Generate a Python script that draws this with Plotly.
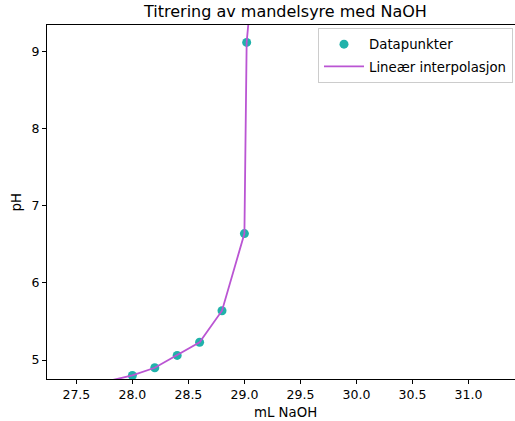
import plotly.graph_objects as go

# Data
ml_naoh = [27.4, 28.0, 28.2, 28.4, 28.6, 28.8, 29.0, 29.02, 29.2]
ph_values = [4.60, 4.80, 4.90, 5.06, 5.23, 5.64, 6.64, 9.12, 12.0]
x_ticks = [27.5, 28.0, 28.5, 29.0, 29.5, 30.0, 30.5, 31.0]
x_tick_labels = ["27.5", "28.0", "28.5", "29.0", "29.5", "30.0", "30.5", "31.0"]
y_ticks = [5, 6, 7, 8, 9]

W, H = 515, 421
L, R, T, B = 46.5, 0, 25, 42
FONT = "DejaVu Sans"

fig = go.Figure()
fig.add_trace(go.Scatter(
    x=ml_naoh, y=ph_values, mode="markers", name="Datapunkter",
    legendgroup="a",
    marker=dict(color="#20B2AA", size=9),
))
fig.add_trace(go.Scatter(
    x=ml_naoh, y=ph_values, mode="lines", name="Lineær interpolasjon",
    legendgroup="b",
    line=dict(color="#BA55D3", width=1.8),
))

pw = W - L - R
ph_ = H - T - B

def px_x(p):
    return (p - L) / pw

def px_y(p):
    return 1 - (p - T) / ph_

fig.update_layout(
    width=W, height=H,
    margin=dict(l=L, r=R, t=T, b=B, pad=0),
    paper_bgcolor="white", plot_bgcolor="white",
    font=dict(family=FONT, size=13, color="black"),
    showlegend=True,
    legend=dict(
        x=px_x(513), y=px_y(28), xanchor="right", yanchor="top",
        bgcolor="rgba(255,255,255,0.8)", bordercolor="#cccccc", borderwidth=1,
        font=dict(family=FONT, size=13.3, color="black"),
        tracegroupgap=2, itemwidth=40,
    ),
    xaxis=dict(
        range=[27.238, 31.415], tickvals=x_ticks, ticktext=x_tick_labels,
        showgrid=False, zeroline=False, showline=True, linecolor="black",
        linewidth=1, mirror=True, ticks="outside", ticklen=4, tickwidth=1,
        tickcolor="black", tickfont=dict(family=FONT, size=12.5, color="black"),
    ),
    yaxis=dict(
        range=[4.754, 9.346], tickvals=y_ticks,
        showgrid=False, zeroline=False, showline=True, linecolor="black",
        linewidth=1, ticks="outside", ticklen=4, tickwidth=1,
        tickcolor="black", tickfont=dict(family=FONT, size=12.5, color="black"),
    ),
    annotations=[
        dict(text="Titrering av mandelsyre med NaOH", xref="paper", yref="paper",
             x=px_x(285), y=px_y(11.5), xanchor="center", yanchor="middle",
             showarrow=False, font=dict(family=FONT, size=16, color="black")),
        dict(text="mL NaOH", xref="paper", yref="paper",
             x=px_x(285), y=px_y(412), xanchor="center", yanchor="middle",
             showarrow=False, font=dict(family=FONT, size=13.3, color="black")),
        dict(text="pH", xref="paper", yref="paper",
             x=px_x(15), y=px_y(203), xanchor="center", yanchor="middle",
             textangle=-90, showarrow=False,
             font=dict(family=FONT, size=13.3, color="black")),
    ],
)

fig.write_html("out.html")
